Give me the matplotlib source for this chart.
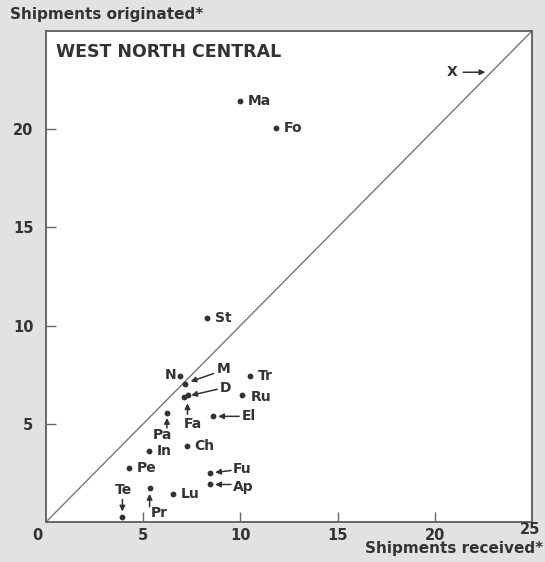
import matplotlib.pyplot as plt

# data (shipments received, shipments originated)
names = ["Ma", "Fo", "St", "N", "M", "D", "Fa", "Pa", "Tr", "Ru", "El",
         "In", "Ch", "Pe", "Fu", "Ap", "Te", "Pr", "Lu"]
received = [9.96, 11.83, 8.27, 6.91, 7.13, 7.11, 7.33, 6.22, 10.47, 10.10, 8.60,
            5.29, 7.24, 4.27, 8.44, 8.44, 3.93, 5.33, 6.51]
originated = [21.46, 20.08, 10.39, 7.45, 7.05, 6.35, 6.45, 5.55, 7.42, 6.47, 5.38,
              3.61, 3.86, 2.73, 2.47, 1.91, 0.28, 1.74, 1.45]
x_note = ("X", 22.6, 22.9)  # off-chart point, shown only by an arrow

ticks = [5, 10, 15, 20]

# label placement in pixels relative to the dot: text offset, alignment, arrow (tail, head) or None
label_pos = {
    "Ma": ((8, 0), "left", None),
    "Fo": ((8, 0), "left", None),
    "St": ((8, 0), "left", None),
    "N": ((-4, 1), "right", None),
    "M": ((32, 15), "left", ((29, 10), (6, 2))),
    "D": ((36, 9), "left", ((33, 8), (7, 2))),
    "Fa": ((-5, -29), "left", ((-1, -19), (-1, -8))),
    "Pa": ((-14, -22), "left", ((0, -15), (0, -5))),
    "Tr": ((8, 0), "left", None),
    "Ru": ((8, -2), "left", None),
    "El": ((29, 0), "left", ((26, 0), (5, 0))),
    "In": ((8, 0), "left", None),
    "Ch": ((8, 0), "left", None),
    "Pe": ((8, 0), "left", None),
    "Fu": ((23, 4), "left", ((21, 3), (5, 1))),
    "Ap": ((23, -3), "left", ((21, 0), (5, 0))),
    "Te": ((1, 27), "center", ((0, 17), (0, 5))),
    "Pr": ((1, -25), "left", ((0, -19), (0, -6))),
    "Lu": ((8, 0), "left", None),
}

ink = "#333333"
plt.rcParams["font.family"] = ["DejaVu Sans"]
plt.rcParams["font.weight"] = "bold"

fig = plt.figure(figsize=(5.45, 5.62), dpi=100, facecolor="#e2e2e2")
ax = fig.add_axes([46 / 545, 40 / 562, 486 / 545, 491 / 562])
ax.set_facecolor("white")
ax.set_xlim(0, 25)
ax.set_ylim(0, 25)

for s in ax.spines.values():
    s.set_color("#666666")
    s.set_linewidth(1.4)

ax.plot([0, 25], [0, 25], color="#777777", lw=1.0)
ax.plot(received, originated, "o", color=ink, ms=4.2, mec="none")

arrow = dict(arrowstyle="-|>", color=ink, lw=1.1, mutation_scale=8, shrinkA=0, shrinkB=0)
for name, xv, yv in zip(names, received, originated):
    (dx, dy), ha, arr = label_pos[name]
    ax.annotate(name, (xv, yv), xytext=(dx, dy), textcoords="offset pixels",
                ha=ha, va="center", fontsize=10, color=ink)
    if arr is not None:
        (tx, ty), (hx, hy) = arr
        p = ax.transData.transform((xv, yv))
        ax.annotate("", xy=(p[0] + hx, p[1] + hy), xycoords="figure pixels",
                    xytext=(p[0] + tx, p[1] + ty), textcoords="figure pixels",
                    arrowprops=arrow)

# X note: arrow pointing at the diagonal
ax.annotate(x_note[0], (x_note[1], x_note[2]), xytext=(-33, 0), textcoords="offset pixels",
            ha="center", va="center", fontsize=10, color=ink,
            arrowprops=dict(arrowstyle="-|>", color=ink, lw=1.1, mutation_scale=8,
                            shrinkA=2, shrinkB=0))

ax.set_xticks(ticks)
ax.set_yticks(ticks)
ax.tick_params(direction="in", length=7, width=1.0, color="#666666",
               labelsize=10.5, labelcolor=ink)
ax.tick_params(axis="x", pad=4)
ax.tick_params(axis="y", pad=9)

ax.annotate("0", (0, 0), xytext=(-9, -14), textcoords="offset pixels",
            ha="center", va="center", fontsize=10.5, color=ink)
ax.annotate("25", (25, 0), xytext=(-2, -7), textcoords="offset pixels",
            ha="center", va="center", fontsize=10.5, color=ink)

ax.text(0.02, 0.975, "WEST NORTH CENTRAL", transform=ax.transAxes,
        ha="left", va="top", fontsize=12.5, color=ink)
fig.text(10 / 545, 1 - 14 / 562, "Shipments originated*", ha="left", va="center",
         fontsize=11, color=ink)
fig.text(543 / 545, 1 - 549 / 562, "Shipments received*", ha="right", va="center",
         fontsize=11, color=ink)

fig.savefig("out.png", dpi=100, facecolor=fig.get_facecolor())
